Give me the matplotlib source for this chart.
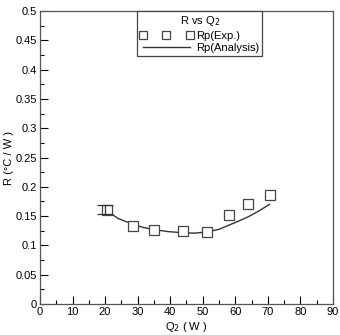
import numpy as np
from matplotlib import pyplot as plt
from matplotlib.ticker import MultipleLocator, FuncFormatter

plt.rcParams['font.family'] = ['Liberation Sans', 'DejaVu Sans']

# experimental points
q_exp = [20.5, 28.6, 34.9, 44.0, 51.3, 58.2, 64.0, 70.5]
r_exp = [0.160, 0.1335, 0.126, 0.125, 0.1227, 0.1517, 0.170, 0.186]
err_q = [20.0]
err_r = [0.161]
err_size = [0.008]

# analysis curve
q_fit = [20.5, 24.0, 28.6, 31.5, 34.9, 39.5, 44.0, 47.5, 51.3, 55.0, 58.2, 61.0, 64.0, 67.0, 70.5]
r_fit = [0.159, 0.146, 0.136, 0.131, 0.127, 0.1235, 0.1216, 0.121, 0.123, 0.1275, 0.135, 0.1415, 0.149, 0.158, 0.170]

fig = plt.figure(figsize=(3.4, 3.35), dpi=100)
ax = fig.add_axes([0.1176, 0.0925, 0.8618, 0.8745])

ax.plot(q_fit, r_fit, color='#333333', lw=1.0, label='Rp(Analysis)')
ax.plot(q_exp, r_exp, ls='none', marker='s', ms=7.5, mfc='white', mec='#444444',
        mew=0.9, label='Rp(Exp.)')
ax.errorbar(err_q, err_r, yerr=err_size, fmt='none', ecolor='#333333',
            elinewidth=0.9, capsize=6, capthick=0.9)

ax.set_xlim(0, 90)
ax.set_ylim(0, 0.5)
ax.xaxis.set_major_locator(MultipleLocator(10))
ax.xaxis.set_minor_locator(MultipleLocator(5))
ax.yaxis.set_major_locator(MultipleLocator(0.05))
ax.yaxis.set_minor_locator(MultipleLocator(0.025))
ax.yaxis.set_major_formatter(FuncFormatter(lambda v, p: '0' if abs(v) < 1e-9 else ('%.2f' % v).rstrip('0')))
ax.tick_params(which='both', direction='in', labelsize=8, top=False, right=False, pad=2)
ax.tick_params(which='major', length=6, width=0.8)
ax.tick_params(which='minor', length=3, width=0.8)
for s in ax.spines.values():
    s.set_color('#555555')
    s.set_linewidth(0.9)

ax.set_xlabel('Q$_2$ ( W )', fontsize=8, labelpad=2)
ax.set_ylabel('R (°C / W )', fontsize=8, labelpad=1)

handles, labels = ax.get_legend_handles_labels()
leg = ax.legend(handles[::-1], labels[::-1], title='R vs Q$_2$', loc='upper center',
                bbox_to_anchor=(0.545, 1.0), numpoints=3, fontsize=8, title_fontsize=8,
                fancybox=False, framealpha=1, edgecolor='#444444', borderaxespad=0,
                handlelength=4.8, borderpad=0.25, labelspacing=0.25, handletextpad=0.3,
                markerscale=0.85)
leg.get_frame().set_linewidth(0.9)

fig.savefig('out.png', dpi=100)
